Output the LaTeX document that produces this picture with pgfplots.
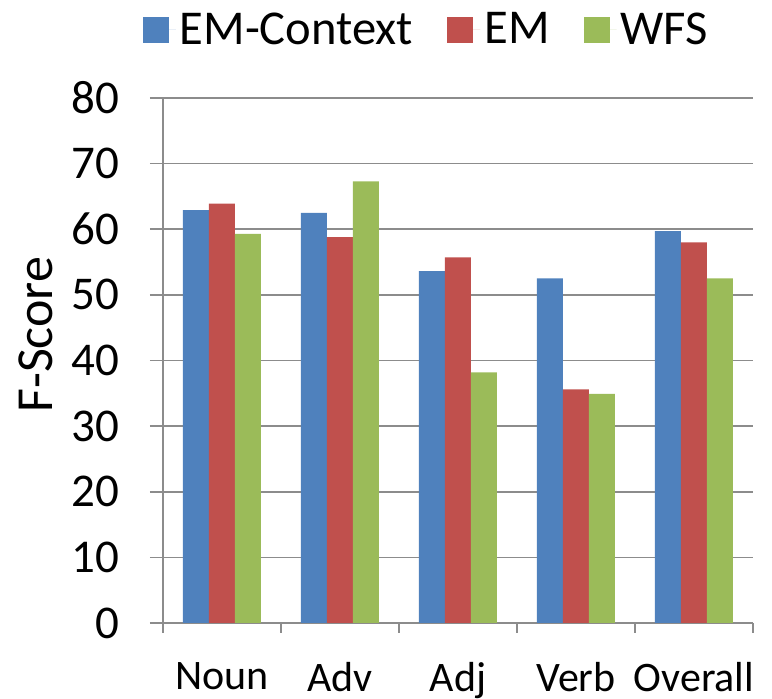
\documentclass[border=0pt]{standalone}
\usepackage{pgfplots}
\pgfplotsset{compat=1.18}
\usepackage{fontspec}
\setmainfont{Carlito}
\definecolor{cblue}{HTML}{4F81BD}
\definecolor{cred}{HTML}{C0504D}
\definecolor{cgreen}{HTML}{9BBB59}
\definecolor{cgrid}{HTML}{8C8C8C}
\begin{document}
\begin{tikzpicture}
\begin{axis}[
  scale only axis, width=295pt, height=262.5pt,
  ymin=0, ymax=80, ytick={0,10,...,80},
  xmin=-0.5, xmax=4.5,
  xtick={0,...,4}, xticklabels={Noun,Adv,Adj,Verb,Overall},
  minor xtick={-0.5,0.5,...,4.5},
  major x tick style={draw=none},
  minor tick length=5pt, major tick length=6.5pt,
  tick align=outside,
  tick style={cgrid, line width=0.8pt},
  ybar=0pt, bar width=13pt,
  axis lines*=left, axis line style={-, cgrid, line width=0.8pt},
  ymajorgrids, grid style={cgrid, line width=0.8pt},
  /pgf/number format/assume math mode=true,
  yticklabel style={font=\fontsize{23.5}{28}\selectfont, anchor=east, inner sep=0pt, xshift=-15pt},
  xticklabel style={font=\fontsize{21}{25}\selectfont, anchor=north, inner sep=0pt, yshift=-13pt},
  ylabel={F-Score},
  ylabel style={font=\fontsize{26}{30}\selectfont, at={(axis description cs:-0.216,0.549)}, anchor=center},
  legend columns=-1,
  legend style={draw=none, fill=none, at={(0.448,1.13)}, anchor=center,
    font=\fontsize{24.3}{28}\selectfont, /tikz/every even column/.append style={column sep=15pt}},
  legend image code/.code={\fill[#1] (0pt,-6.5pt) rectangle (13pt,6.5pt); \path (0pt,0pt) -- (16.5pt,0pt);},
]
\addplot[fill=cblue, draw=none] coordinates {(0,62.9) (1,62.5) (2,53.6) (3,52.5) (4,59.7)};
\addplot[fill=cred, draw=none] coordinates {(0,63.9) (1,58.8) (2,55.7) (3,35.6) (4,58.0)};
\addplot[fill=cgreen, draw=none] coordinates {(0,59.3) (1,67.3) (2,38.2) (3,34.9) (4,52.5)};
\legend{EM-Context,EM,WFS}
\coordinate (bl) at (rel axis cs:0,0);
\coordinate (tr) at (rel axis cs:1,1);
\end{axis}
\path ([xshift=-81.5pt,yshift=-38pt]bl) rectangle ([xshift=9.5pt,yshift=49pt]tr);
\end{tikzpicture}
\end{document}
